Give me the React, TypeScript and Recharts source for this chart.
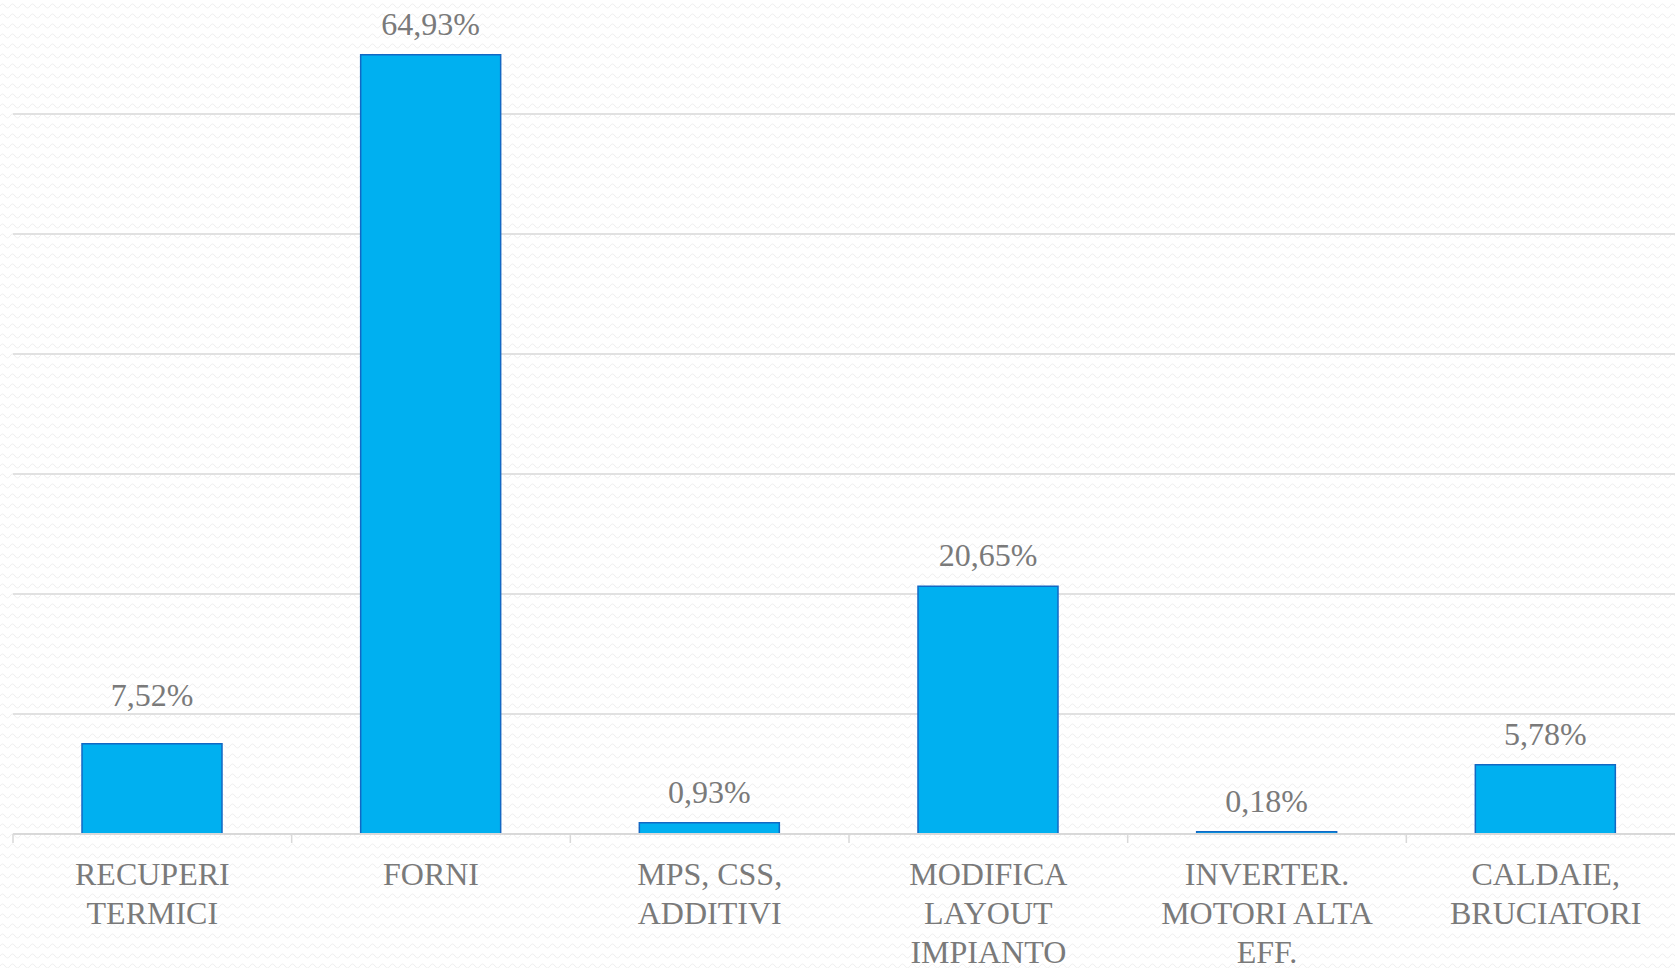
import React from "react";
import { BarChart, Bar, XAxis, YAxis, CartesianGrid, LabelList } from "recharts";

const categories = [
  "RECUPERI TERMICI",
  "FORNI",
  "MPS, CSS, ADDITIVI",
  "MODIFICA LAYOUT IMPIANTO",
  "INVERTER. MOTORI ALTA EFF.",
  "CALDAIE, BRUCIATORI",
];

// how each category label wraps in the picture
const labelLines: string[][] = [
  ["RECUPERI", "TERMICI"],
  ["FORNI"],
  ["MPS, CSS,", "ADDITIVI"],
  ["MODIFICA", "LAYOUT", "IMPIANTO"],
  ["INVERTER.", "MOTORI ALTA", "EFF."],
  ["CALDAIE,", "BRUCIATORI"],
];

const shares = [7.52, 64.93, 0.93, 20.65, 0.18, 5.78];

const yTicks = [0, 10, 20, 30, 40, 50, 60, 70];

const data = categories.map((name, i) => ({ name, value: shares[i] }));

const font = "'Liberation Serif', 'DejaVu Serif', serif";
const textColor = "#7a7a7a";
const lineColor = "#d9d9d9";

const wave =
  "url(\"data:image/svg+xml;utf8,<svg xmlns='http://www.w3.org/2000/svg' width='10' height='10'><path d='M0 6 Q2.5 2 5 6 T10 6' fill='none' stroke='%23eeeeee' stroke-width='1'/></svg>\")";

// label plus the little divider marks that sit between categories
function CategoryTick(props: any) {
  const { x, y, index, payload, width, visibleTicksCount } = props;
  const lines = labelLines[index] ?? [payload?.value];
  const half =
    payload && typeof payload.offset === "number" && payload.offset > 0
      ? payload.offset
      : width / (visibleTicksCount || categories.length) / 2;
  const last = index === categories.length - 1;
  return (
    <g>
      <line x1={x - half} x2={x - half} y1={y} y2={y + 9} stroke={lineColor} strokeWidth={1.5} />
      {last && (
        <line x1={x + half} x2={x + half} y1={y} y2={y + 9} stroke={lineColor} strokeWidth={1.5} />
      )}
      <text x={x} y={y + 51} textAnchor="middle" fill={textColor} fontSize={32} fontFamily={font}>
        {lines.map((l, i) => (
          <tspan key={i} x={x} dy={i === 0 ? 0 : 39}>
            {l}
          </tspan>
        ))}
      </text>
    </g>
  );
}

const fmt = (v: any) => Number(v).toFixed(2).replace(".", ",") + "%";

// the first label sits a bit higher in the original (moved clear of the 10% line)
function ValueLabel(props: any) {
  const { x, y, width, value, index } = props;
  const lift = index === 0 ? 38 : 20;
  return (
    <text
      x={x + width / 2}
      y={y - lift}
      textAnchor="middle"
      fill={textColor}
      fontSize={32}
      fontFamily={font}
    >
      {fmt(value)}
    </text>
  );
}

export default function App() {
  return (
    <div
      style={{
        position: "absolute",
        left: 0,
        top: 0,
        width: 1675,
        height: 968,
        overflow: "hidden",
        backgroundColor: "#ffffff",
        backgroundImage: wave,
      }}
    >
      <div style={{ position: "absolute", left: 0, top: -20 }}>
        <BarChart
          width={1685}
          height={1008}
          data={data}
          margin={{ top: 14, right: 0, bottom: 0, left: 13 }}
        >
          <CartesianGrid vertical={false} stroke={lineColor} strokeWidth={1.3} />
          <XAxis
            dataKey="name"
            height={154}
            axisLine={{ stroke: lineColor, strokeWidth: 1.8 }}
            tickLine={false}
            tickSize={0}
            tickMargin={0}
            interval={0}
            tick={<CategoryTick />}
          />
          <YAxis hide domain={[0, 70]} ticks={yTicks} />
          <Bar
            dataKey="value"
            fill="#00b0f0"
            stroke="#1268c4"
            strokeWidth={1.5}
            barSize={140}
            isAnimationActive={false}
          >
            <LabelList dataKey="value" content={<ValueLabel />} />
          </Bar>
        </BarChart>
      </div>
    </div>
  );
}
